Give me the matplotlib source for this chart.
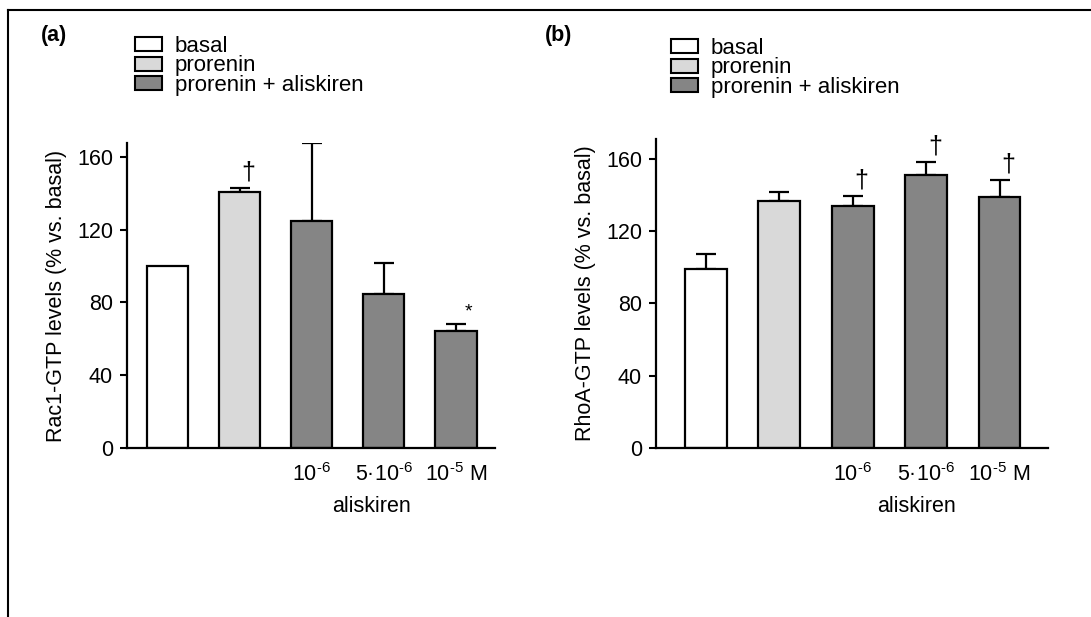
import matplotlib
matplotlib.use("Agg")
import matplotlib.pyplot as plt
from matplotlib.lines import Line2D
from matplotlib.patches import Patch

plt.rcParams['font.family'] = ['Liberation Sans', 'DejaVu Sans']
plt.rcParams['mathtext.fontset'] = 'custom'
plt.rcParams['mathtext.rm'] = 'Liberation Sans'

# values
groups = ['basal', 'prorenin', 'prorenin + aliskiren']
bar_colors = ['white', '#d9d9d9', '#858585', '#858585', '#858585']
tick_labels = ['', '', r'10$^{\text{-6}}$', r'5·10$^{\text{-6}}$', r'10$^{\text{-5}}$ M']

rac1_mean = [100, 140.7, 124.9, 84.6, 64.3]
rac1_err = [0, 2.3, 42.7, 17.0, 3.7]
rac1_marks = ['', '†', '', '', '*']

rhoa_mean = [99, 136.8, 134, 151, 139]
rhoa_err = [8.4, 5.0, 5.5, 7.4, 9.4]
rhoa_marks = ['', '', '†', '†', '†']

fig = plt.figure(figsize=(10.91, 6.17), dpi=100)
FS = 15.5


def panel(rect, means, errs, marks, ylab, ytop, xlim, tag, tag_xy, leg_xy):
    ax = fig.add_axes(rect)
    x = range(len(means))
    ax.bar(x, means, width=0.57, color=bar_colors, edgecolor='black',
           linewidth=1.6, zorder=2)
    # upper error bars only
    for xi, m, e in zip(x, means, errs):
        if e > 0:
            ax.errorbar(xi, m, yerr=[[0], [e]], fmt='none', ecolor='black',
                        elinewidth=1.6, capsize=7, capthick=1.6, zorder=1)
    for xi, m, e, s in zip(x, means, errs, marks):
        if s == '†':
            ax.text(xi + 0.12, m + e + 2, s, ha='center', va='bottom', fontsize=18)
        elif s == '*':
            ax.text(xi + 0.17, m + e + 2, s, ha='center', va='bottom', fontsize=14)
    ax.set_xlim(*xlim)
    ax.set_ylim(0, ytop)
    ax.set_yticks([0, 40, 80, 120, 160])
    ax.set_xticks(list(x))
    ax.set_xticklabels(tick_labels)
    ax.tick_params(axis='x', length=0, labelsize=FS, pad=11)
    ax.tick_params(axis='y', length=5, width=1.5, labelsize=FS, pad=5)
    for s in ['top', 'right']:
        ax.spines[s].set_visible(False)
    for s in ['left', 'bottom']:
        ax.spines[s].set_linewidth(1.6)
    ax.set_ylabel(ylab, fontsize=FS, labelpad=7)
    ax.set_xlabel('aliskiren', fontsize=FS, x=0.665, labelpad=7)
    fig.text(tag_xy[0], tag_xy[1], tag, fontsize=15.5, fontweight='bold',
             ha='left', va='center')
    handles = [Patch(facecolor=c, edgecolor='black', linewidth=1.5)
               for c in ['white', '#d9d9d9', '#858585']]
    fig.legend(handles, groups, loc='upper left', bbox_to_anchor=leg_xy,
               frameon=False, fontsize=16, borderpad=0, borderaxespad=0,
               handlelength=1.2, handleheight=0.6, labelspacing=-0.07,
               handletextpad=0.6)
    return ax


panel([127 / 1091, 1 - 448 / 617, 368 / 1091, 305 / 617], rac1_mean, rac1_err,
      rac1_marks, 'Rac1-GTP levels (% vs. basal)', 167.6, (-0.56, 4.54),
      '(a)', (41 / 1091, 1 - 35 / 617), (135 / 1091, 1 - 36 / 617))
panel([656 / 1091, 1 - 448 / 617, 392 / 1091, 309 / 617], rhoa_mean, rhoa_err,
      rhoa_marks, 'RhoA-GTP levels (% vs. basal)', 171, (-0.68, 4.66),
      '(b)', (545 / 1091, 1 - 35 / 617), (671 / 1091, 1 - 38 / 617))

# frame lines (top and left)
fig.add_artist(Line2D([8 / 1091, 8 / 1091], [0, 1 - 10 / 617], color='black', lw=1.5))
fig.add_artist(Line2D([8 / 1091, 1], [1 - 10 / 617, 1 - 10 / 617], color='black', lw=1.5))

fig.savefig('out.png', dpi=100)
